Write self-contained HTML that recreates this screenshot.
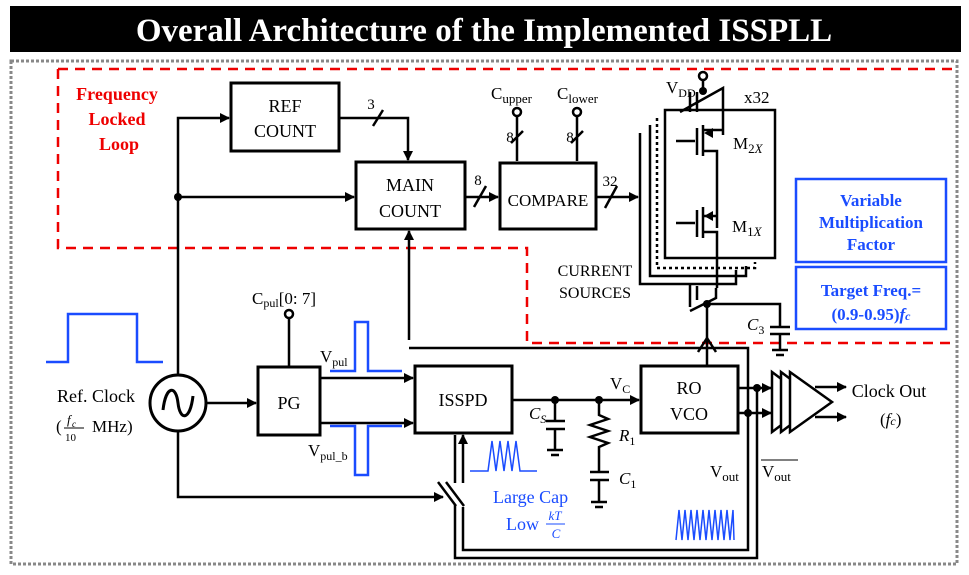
<!DOCTYPE html>
<html><head><meta charset="utf-8"><style>
body{margin:0;background:#fff}
svg{display:block}
text{font-family:"Liberation Serif",serif}
</style></head><body>
<svg width="969" height="575" viewBox="0 0 969 575" xmlns="http://www.w3.org/2000/svg">
<defs>
<marker id="a" markerWidth="10" markerHeight="10" refX="9" refY="5" orient="auto" markerUnits="userSpaceOnUse"><path d="M0,0 L10,5 L0,10 z" fill="#000"/></marker>
</defs>
<rect x="0" y="0" width="969" height="575" fill="#fff"/>
<rect x="10" y="6" width="951" height="46" fill="#000"/>
<text x="484" y="41" fill="#fff" font-size="33" font-weight="bold" text-anchor="middle">Overall Architecture of the Implemented ISSPLL</text>
<rect x="11" y="61" width="946" height="503" fill="none" stroke="#888" stroke-width="3" stroke-dasharray="3,2"/>
<path d="M58,69 H952 M58,69 V248 H527 V343 H952" fill="none" stroke="#e00" stroke-width="2.5" stroke-dasharray="10,7"/>
<g fill="#e00" font-size="18" font-weight="bold" text-anchor="middle">
<text x="117" y="100">Frequency</text><text x="117" y="125">Locked</text><text x="119" y="150">Loop</text></g>
<g fill="none" stroke="#000" stroke-width="3">
<rect x="231" y="83" width="108" height="68" fill="#fff"/>
<rect x="356" y="162" width="109" height="67" fill="#fff"/>
<rect x="500" y="163" width="96" height="66" fill="#fff"/>
<rect x="258" y="367" width="62" height="68" fill="#fff"/>
<rect x="415" y="366" width="97" height="67" fill="#fff"/>
<rect x="641" y="366" width="97" height="67" fill="#fff"/>
</g>
<g fill="none" stroke="#000" stroke-width="2.5">
<path d="M178,375 V118 H229" marker-end="url(#a)"/>
<path d="M178,197 H354" marker-end="url(#a)"/>
<path d="M339,118 H408 V160" marker-end="url(#a)"/>
<path d="M373,126 L383,110"/>
<path d="M409,340 V231" marker-end="url(#a)"/>
<path d="M409,348 H748 V550 H463 V507"/>
<path d="M757,388 V558 H455 V505"/>
<path d="M465,197 H498" marker-end="url(#a)"/>
<path d="M474,207 L486,186"/>
<path d="M596,197 H638" marker-end="url(#a)"/>
<path d="M605,208 L617,186"/>
<path d="M517,116 V161 M577,116 V161 M511,143 L523,131 M571,143 L583,131"/>
<path d="M178,431 V497 H443" marker-end="url(#a)"/>
<path d="M438,482 L456,506 M446,482 L464,506"/>
<path d="M455,483 V435 M463,483 V435" marker-end="url(#a)"/>
<path d="M206,403 H256" marker-end="url(#a)"/>
<path d="M289,318 V367"/>
<path d="M320,378 H413" marker-end="url(#a)"/>
<path d="M320,423 H413" marker-end="url(#a)"/>
<path d="M512,400 H639" marker-end="url(#a)"/>
<path d="M555,400 V421 M546,421 H565 M546,429 H565 M555,429 V450 M547,450 H563 M551,455 H559"/>
<path d="M599,400 V415 L608,419 L590,425 L608,431 L590,437 L608,443 L599,447 V472 M590,472 H609 M590,480 H609 M599,480 V502 M591,502 H607 M595,507 H603"/>
<path d="M738,388 H771" marker-end="url(#a)"/>
<path d="M738,413 H771" marker-end="url(#a)"/>
<path d="M815,387 H846" marker-end="url(#a)"/>
<path d="M815,417 H846" marker-end="url(#a)"/>
<path d="M772,372 V432 L812,402 Z" fill="#fff"/>
<path d="M781,372 V432 L821,402 Z" fill="#fff"/>
<path d="M790,372 V432 L832,402 Z" fill="#fff"/>
<path d="M707,366 V304"/>
<path d="M698,352 L707,338 L716,352"/>
<path d="M707,304 H780 V327 M770,327 H790 M770,334 H790 M780,334 V350 M772,350 H788 M776,355 H784"/>
</g>
<circle cx="178" cy="197" r="4" fill="#000"/>
<circle cx="555" cy="400" r="4" fill="#000"/>
<circle cx="599" cy="400" r="4" fill="#000"/>
<circle cx="748" cy="413" r="4" fill="#000"/>
<circle cx="757" cy="388" r="4" fill="#000"/>
<circle cx="707" cy="304" r="4" fill="#000"/>
<circle cx="178" cy="403" r="28" fill="#fff" stroke="#000" stroke-width="3"/>
<path d="M163,410 C166,385 176,385 178,403 C180,421 190,421 193,396" fill="none" stroke="#000" stroke-width="3"/>
<g fill="#fff" stroke="#000" stroke-width="2.5">
<circle cx="289" cy="314" r="4"/><circle cx="517" cy="112" r="4"/><circle cx="577" cy="112" r="4"/><circle cx="703" cy="76" r="4"/>
</g>
<g fill="none" stroke="#000" stroke-width="2.5">
<path d="M640,133 V284 H736 V270"/>
<path d="M650,125 V276 H746 V266"/>
<path d="M657,118 V268 H755 V262" stroke-dasharray="3,3"/>
<rect x="665" y="110" width="110" height="148" fill="#fff"/>
<path d="M703,80 V92 M680,112 L723,88 L723,135"/>
<path d="M690,112 V92 M697,112 V92"/>
<path d="M676,141 H695 M697,128 V155 M703,125 V156 M703,130 H723 M703,151 H717 V228"/>
<path d="M676,223 H695 M697,210 V237 M703,207 V238 M703,216 H718 M703,232 H717 V288"/>
<path d="M690,285 V307 M697,286 V300 M716,288 V298 L690,311 L716,298"/>
</g>
<path d="M704,216 L713,211 L713,221 Z M704,133 L713,128 L713,138 Z" fill="#000"/>
<circle cx="703" cy="91" r="4" fill="#000"/>
<g fill="none" stroke="#1a4cff" stroke-width="2.5">
<path d="M46,362 H68 V314 H137 V362 H163"/>
<path d="M330,371 H355 V322 H368 V371 H402"/>
<path d="M330,426 H355 V475 H368 V426 H402"/>
<rect x="796" y="179" width="150" height="83"/>
<rect x="796" y="267" width="150" height="62"/>
</g>
<g fill="none" stroke="#1a4cff" stroke-width="1.5">
<path d="M470,471 H488 L492,441 L496,471 L500,441 L504,471 L508,441 L512,471 L516,441 L520,471 H537"/>
<path d="M676,540 L679,510 L682,540 L685,510 L688,540 L691,510 L694,540 L697,510 L700,540 L703,510 L706,540 L709,510 L712,540 L715,510 L718,540 L721,510 L724,540 L727,510 L730,540 L733,510 L734,540"/>
</g>
<g fill="#1a4cff" font-weight="bold" font-size="17" text-anchor="middle">
<text x="871" y="206">Variable</text><text x="871" y="228">Multiplication</text><text x="871" y="250">Factor</text>
<text x="871" y="296">Target Freq.=</text><text x="871" y="320">(0.9-0.95)<tspan font-style="italic">f</tspan><tspan font-size="12" font-style="italic">c</tspan></text>
</g>
<g fill="#1a4cff" font-size="18">
<text x="493" y="503">Large Cap</text><text x="506" y="530">Low</text>
<text x="555" y="520" font-size="13" font-style="italic" text-anchor="middle">kT</text>
<path d="M546,524 H565" stroke="#1a4cff" stroke-width="1"/>
<text x="556" y="538" font-size="13" font-style="italic" text-anchor="middle">C</text>
</g>
<g font-size="18" fill="#000" text-anchor="middle">
<text x="285" y="112">REF</text><text x="285" y="137">COUNT</text>
<text x="410" y="191">MAIN</text><text x="410" y="217">COUNT</text>
<text x="548" y="206" font-size="17">COMPARE</text>
<text x="289" y="409">PG</text>
<text x="463" y="406">ISSPD</text>
<text x="689" y="394">RO</text><text x="689" y="420">VCO</text>
<text x="371" y="109" font-size="15">3</text>
<text x="478" y="185" font-size="15">8</text>
<text x="610" y="186" font-size="15">32</text>
<text x="510" y="142" font-size="15">8</text>
<text x="570" y="142" font-size="15">8</text>
<text x="595" y="276" font-size="16">CURRENT</text>
<text x="595" y="298" font-size="16">SOURCES</text>
<text x="96" y="402">Ref. Clock</text>
<text x="889" y="397">Clock Out</text>
</g>
<g font-size="17" fill="#000">
<text x="56" y="432">(</text><text x="92" y="432">MHz)</text>
<text x="67" y="424" font-size="13" font-style="italic">f</text><text x="72" y="427" font-size="9" font-style="italic">c</text>
<path d="M64,428 H84" stroke="#000" stroke-width="1"/>
<text x="65" y="441" font-size="11">10</text>
<text x="880" y="425">(<tspan font-style="italic">f</tspan><tspan font-size="12" font-style="italic">c</tspan>)</text>
<text x="252" y="304">C<tspan font-size="12" dy="3">pul</tspan><tspan dy="-3">[0: 7]</tspan></text>
<text x="320" y="362">V<tspan font-size="12" dy="4">pul</tspan></text>
<text x="308" y="456">V<tspan font-size="12" dy="4">pul_b</tspan></text>
<text x="610" y="389">V<tspan font-size="12" dy="4">C</tspan></text>
<text x="529" y="419" font-style="italic">C<tspan font-size="12" dy="4">S</tspan></text>
<text x="619" y="441" font-style="italic">R<tspan font-size="12" dy="4" font-style="normal">1</tspan></text>
<text x="619" y="484" font-style="italic">C<tspan font-size="12" dy="4" font-style="normal">1</tspan></text>
<text x="747" y="330" font-style="italic">C<tspan font-size="12" dy="4" font-style="normal">3</tspan></text>
<text x="491" y="99">C<tspan font-size="13" dy="4">upper</tspan></text>
<text x="557" y="99">C<tspan font-size="13" dy="4">lower</tspan></text>
<text x="666" y="93">V<tspan font-size="12" dy="4">DD</tspan></text>
<text x="744" y="103">x32</text>
<text x="733" y="149">M<tspan font-size="13" dy="4">2</tspan><tspan font-size="13" font-style="italic">X</tspan></text>
<text x="732" y="232">M<tspan font-size="13" dy="4">1</tspan><tspan font-size="13" font-style="italic">X</tspan></text>
<text x="710" y="477">V<tspan font-size="13" dy="4">out</tspan></text>
<text x="762" y="477">V<tspan font-size="13" dy="4">out</tspan></text>
<path d="M761,460 H798" stroke="#000" stroke-width="1"/>
</g>
</svg>
</body></html>
